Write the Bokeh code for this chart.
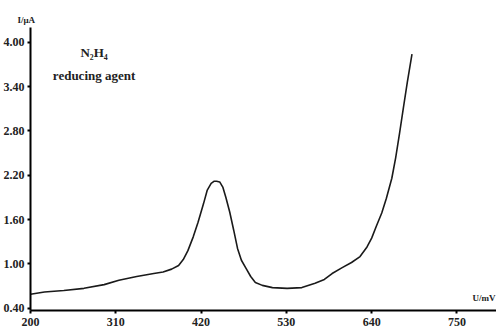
from bokeh.plotting import figure
from bokeh.models import FixedTicker, NumeralTickFormatter, Label, Range1d
from bokeh.embed import file_html
from bokeh.resources import INLINE

# Data
voltage = [200, 218, 243, 269, 295, 314, 337, 359, 371, 382, 391, 397, 403, 410,
           416, 423, 428, 433, 437, 440, 444, 448, 452, 457, 462, 467, 472, 478,
           484, 490, 499, 512, 531, 550, 567, 579, 589, 602, 614, 625, 634, 640,
           646, 653, 659, 666, 671, 676, 681, 686, 692]
current = [0.59, 0.62, 0.64, 0.67, 0.72, 0.78, 0.83, 0.87, 0.89, 0.93, 0.98, 1.06,
           1.18, 1.37, 1.56, 1.81, 2.00, 2.09, 2.12, 2.12, 2.11, 2.04, 1.90, 1.70,
           1.46, 1.21, 1.05, 0.94, 0.83, 0.75, 0.71, 0.68, 0.67, 0.68, 0.74, 0.79,
           0.87, 0.95, 1.02, 1.10, 1.23, 1.35, 1.51, 1.69, 1.89, 2.16, 2.44, 2.77,
           3.12, 3.46, 3.84]
x_ticks = [200, 310, 420, 530, 640, 750]
y_ticks = [0.40, 1.00, 1.60, 2.20, 2.80, 3.40, 4.00]

FONT = "Liberation Serif"

p = figure(width=496, height=335, output_backend="svg", toolbar_location=None,
           x_range=Range1d(200, 801), y_range=Range1d(0.37, 4.2),
           min_border_left=28, min_border_right=0, min_border_top=27,
           min_border_bottom=25)
p.outline_line_color = None
p.xgrid.visible = False
p.ygrid.visible = False
p.background_fill_color = "white"

# y-axis title drawn as a left-aligned plot title above the frame
p.title.text = "I/μA"
p.title.align = "left"
p.title.offset = -13
p.title.text_font = FONT
p.title.text_font_style = "bold"
p.title.text_font_size = "9px"
p.title.text_color = "#222222"
p.title.standoff = 5

p.line(voltage, current, line_color="#1a1a1a", line_width=1.6)

for ax in (p.xaxis[0], p.yaxis[0]):
    ax.axis_line_width = 2
    ax.axis_line_color = "black"
    ax.major_tick_line_width = 2
    ax.major_tick_line_color = "black"
    ax.major_tick_in = 0
    ax.major_tick_out = 3
    ax.minor_tick_line_color = None
    ax.major_label_text_font = FONT
    ax.major_label_text_font_style = "bold"
    ax.major_label_text_font_size = "12px"
    ax.major_label_text_color = "#222222"
    ax.major_label_standoff = 4

p.yaxis.major_label_standoff = 3
p.xaxis.ticker = FixedTicker(ticks=x_ticks)
p.yaxis.ticker = FixedTicker(ticks=y_ticks)
p.yaxis.formatter = NumeralTickFormatter(format="0.00")

# x-axis title
p.add_layout(Label(x=770, y=0.54, text="U/mV", text_font=FONT, text_font_style="bold",
                   text_font_size="9px", text_baseline="middle", text_align="left",
                   text_color="#222222"))

# annotation
p.add_layout(Label(x=282, y=3.86, text="N₂H₄", text_font=FONT, text_font_style="bold",
                   text_font_size="13px", text_baseline="middle", text_align="center",
                   text_color="#222222"))
p.add_layout(Label(x=282, y=3.55, text="reducing agent", text_font=FONT,
                   text_font_style="bold", text_font_size="13px", text_baseline="middle",
                   text_align="center", text_color="#222222"))

open("out.html", "w").write(file_html(p, INLINE))
